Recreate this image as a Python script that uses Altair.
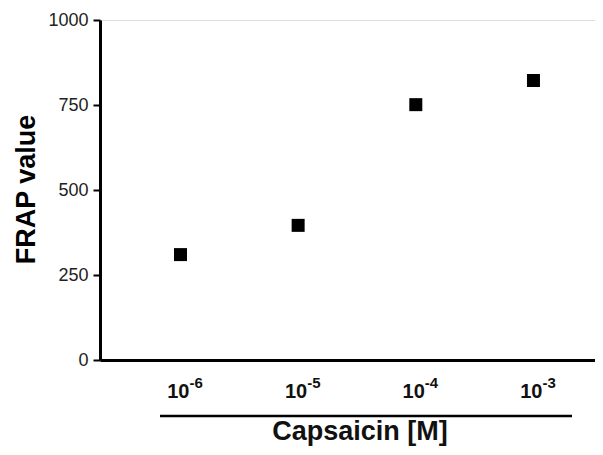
import altair as alt
import pandas as pd

exponents = [-6, -5, -4, -3]
frap_values = [310, 396, 751, 822]
y_ticks = [0, 250, 500, 750, 1000]
x_title = "Capsaicin [M]"
y_title = "FRAP value"

df = pd.DataFrame({
    "exp": exponents,
    "frap": frap_values,
    "base": ["10"] * len(exponents),
    "sup": [str(e) for e in exponents],
})

FONT = "Liberation Sans"

xscale = alt.Scale(domain=[-6.684, -2.477], nice=False, zero=False)
yscale = alt.Scale(domain=[0, 1000], nice=False)

points = alt.Chart(df).mark_square(size=169, color="black", opacity=1, filled=True).encode(
    x=alt.X("exp:Q", scale=xscale,
            axis=alt.Axis(title=None, labels=False, ticks=False, grid=False,
                          domainColor="black", domainWidth=3)),
    y=alt.Y("frap:Q", scale=yscale,
            axis=alt.Axis(values=y_ticks, grid=False, title=y_title, format="d",
                          domainColor="black", domainWidth=3,
                          tickColor="black", tickWidth=2, tickSize=7,
                          labelFont=FONT, labelFontSize=18, labelColor="#222",
                          labelPadding=5,
                          titleFont=FONT, titleFontSize=27, titleFontWeight="bold",
                          titleColor="black", titleAngle=270, titleAlign="center",
                          titleBaseline="middle", titleX=-74, titleY=169)),
)

base_lbl = alt.Chart(df).mark_text(
    font=FONT, fontSize=20, fontWeight="bold", color="#111",
    align="right", baseline="alphabetic", dx=9,
).encode(x=alt.X("exp:Q", scale=xscale), y=alt.value(378), text="base:N")

sup_lbl = alt.Chart(df).mark_text(
    font=FONT, fontSize=15, fontWeight="bold", color="#111",
    align="left", baseline="alphabetic", dx=9,
).encode(x=alt.X("exp:Q", scale=xscale), y=alt.value(368), text="sup:N")

underline = alt.Chart(pd.DataFrame({"a": [0]})).mark_rule(
    color="black", strokeWidth=2.5
).encode(x=alt.value(60), x2=alt.value(472), y=alt.value(396))

title = alt.Chart(pd.DataFrame({"t": [x_title]})).mark_text(
    font=FONT, fontSize=27, fontWeight="bold", color="#111",
    align="center", baseline="alphabetic",
).encode(x=alt.value(260), y=alt.value(420), text="t:N")

chart = alt.layer(points, base_lbl, sup_lbl, underline, title).properties(
    width=495, height=340,
    autosize=alt.AutoSizeParams(type="none"),
    padding={"left": 92, "top": 12, "right": 0, "bottom": 87},
).configure_view(stroke=None).configure(background="white")

chart.save("out.html", embed_options={"renderer": "svg", "actions": False})
